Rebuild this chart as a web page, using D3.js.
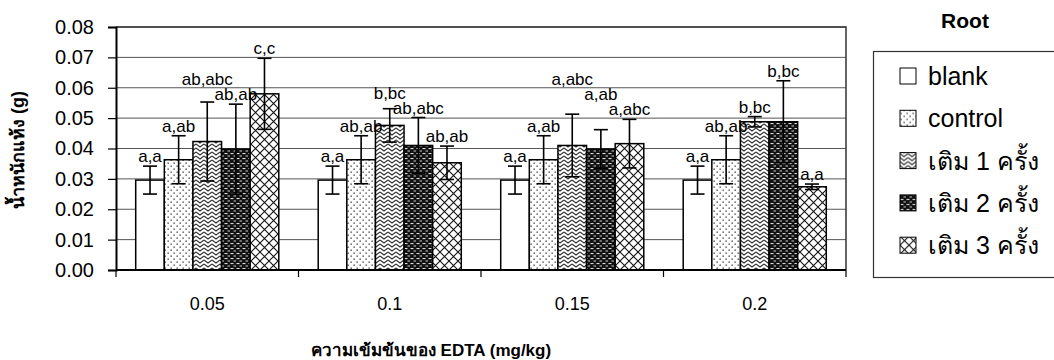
<!DOCTYPE html>
<html>
<head>
<meta charset="utf-8">
<script src="https://cdn.jsdelivr.net/npm/d3@7"></script>
<style>
    body { margin: 0; background: #fff; }
    text { font-family: "Liberation Sans", Arial, sans-serif; fill: #000; }
    .grid line { stroke: #555; stroke-width: 1; }
</style>
</head>
<body>
<div id="chart"></div>
<script>
// values
let concentrations = ["0.05", "0.1", "0.15", "0.2"];
let treatments = ["blank", "control", "เติม 1 ครั้ง", "เติม 2 ครั้ง", "เติม 3 ครั้ง"];

let blankMean   = [0.0296, 0.0296, 0.0296, 0.0296];
let controlMean = [0.0363, 0.0363, 0.0363, 0.0363];
let add1Mean    = [0.0423, 0.0476, 0.0410, 0.0488];
let add2Mean    = [0.0398, 0.0410, 0.0398, 0.0488];
let add3Mean    = [0.0580, 0.0353, 0.0416, 0.0274];

let blankErr   = [0.0046, 0.0046, 0.0046, 0.0046];
let controlErr = [0.0079, 0.0079, 0.0079, 0.0079];
let add1Err    = [0.0130, 0.0055, 0.0103, 0.0017];
let add2Err    = [0.0148, 0.0092, 0.0064, 0.0135];
let add3Err    = [0.0117, 0.0055, 0.0080, 0.0009];

let blankLbl   = ["a,a", "a,a", "a,a", "a,a"];
let controlLbl = ["a,ab", "ab,ab", "a,ab", "ab,ab"];
let add1Lbl    = ["ab,abc", "b,bc", "a,abc", "b,bc"];
let add2Lbl    = ["ab,ab", "ab,abc", "a,ab", "b,bc"];
let add3Lbl    = ["c,c", "ab,ab", "a,abc", "a,a"];

let yTicks = [0, 0.01, 0.02, 0.03, 0.04, 0.05, 0.06, 0.07, 0.08];

let means = [blankMean, controlMean, add1Mean, add2Mean, add3Mean];
let errs = [blankErr, controlErr, add1Err, add2Err, add3Err];
let lbls = [blankLbl, controlLbl, add1Lbl, add2Lbl, add3Lbl];

let data = [];
concentrations.forEach((c, ci) => {
    treatments.forEach((t, ti) => {
        data.push({conc: c, trt: t, ti: ti, mean: means[ti][ci], err: errs[ti][ci], label: lbls[ti][ci]});
    });
});

let W = 1054, H = 360;
let margin = {top: 27, right: 208, bottom: 90, left: 116};
let width = W - margin.left - margin.right;
let height = H - margin.top - margin.bottom;

let svg = d3.select("#chart").append("svg")
    .attr("width", W)
    .attr("height", H);

// fill patterns
let defs = svg.append("defs");
let patIds = ["p0", "p1", "p2", "p3", "p4"];

defs.append("pattern").attr("id", "p0").attr("width", 4).attr("height", 4)
    .attr("patternUnits", "userSpaceOnUse")
    .append("rect").attr("width", 4).attr("height", 4).attr("fill", "#fff");

let p1 = defs.append("pattern").attr("id", "p1").attr("width", 6).attr("height", 6)
    .attr("patternUnits", "userSpaceOnUse");
p1.append("rect").attr("width", 6).attr("height", 6).attr("fill", "#fff");
p1.append("rect").attr("x", 0.5).attr("y", 0.5).attr("width", 1.3).attr("height", 1.3).attr("fill", "#333");
p1.append("rect").attr("x", 3.5).attr("y", 3.5).attr("width", 1.3).attr("height", 1.3).attr("fill", "#333");

let p2 = defs.append("pattern").attr("id", "p2").attr("width", 8).attr("height", 8)
    .attr("patternUnits", "userSpaceOnUse");
p2.append("rect").attr("width", 8).attr("height", 8).attr("fill", "#fff");
p2.append("path").attr("d", "M0,1 L4,4 L8,1 M0,5 L4,8 L8,5 M0,-3 L4,0 L8,-3")
    .attr("fill", "none").attr("stroke", "#333").attr("stroke-width", 1.1);

let p3 = defs.append("pattern").attr("id", "p3").attr("width", 6).attr("height", 5)
    .attr("patternUnits", "userSpaceOnUse");
p3.append("rect").attr("width", 6).attr("height", 5).attr("fill", "#111");
p3.append("rect").attr("x", 0.5).attr("y", 1).attr("width", 3).attr("height", 1.1).attr("fill", "#ddd");
p3.append("rect").attr("x", 3.5).attr("y", 3.5).attr("width", 2.5).attr("height", 1).attr("fill", "#ccc");

let p4 = defs.append("pattern").attr("id", "p4").attr("width", 9).attr("height", 9)
    .attr("patternUnits", "userSpaceOnUse");
p4.append("rect").attr("width", 9).attr("height", 9).attr("fill", "#fff");
p4.append("path").attr("d", "M0,0 L9,9 M9,0 L0,9")
    .attr("stroke", "#111").attr("stroke-width", 1.1);

let g = svg.append("g").attr("transform", `translate(${margin.left},${margin.top})`);

// scales
let x0 = d3.scaleBand().domain(concentrations).range([0, width])
    .paddingInner(0.216).paddingOuter(0.108);
let x1 = d3.scaleBand().domain(treatments).range([0, x0.bandwidth()]);
let y = d3.scaleLinear().domain([0, 0.08]).range([height, 0]);

// gridlines
g.append("g").attr("class", "grid")
    .selectAll("line").data(yTicks.slice(1))
    .enter().append("line")
    .attr("x1", 0).attr("x2", width)
    .attr("y1", d => y(d)).attr("y2", d => y(d));

// plot frame (top + right)
g.append("path")
    .attr("d", `M0,0 H${width} V${height}`)
    .attr("fill", "none").attr("stroke", "#333").attr("stroke-width", 1.5);

// bars
g.selectAll(".bar").data(data).enter().append("rect")
    .attr("class", "bar")
    .attr("x", d => x0(d.conc) + x1(d.trt))
    .attr("width", x1.bandwidth())
    .attr("y", d => y(d.mean))
    .attr("height", d => height - y(d.mean))
    .attr("fill", d => `url(#${patIds[d.ti]})`)
    .attr("stroke", "#000").attr("stroke-width", 1.5);

// error bars
let cap = 7;
let cx = d => x0(d.conc) + x1(d.trt) + x1.bandwidth() / 2;
let eb = g.selectAll(".err").data(data).enter().append("g").attr("class", "err")
    .attr("stroke", "#000").attr("stroke-width", 1.6);
eb.append("line")
    .attr("x1", cx).attr("x2", cx)
    .attr("y1", d => y(d.mean + d.err)).attr("y2", d => y(d.mean - d.err));
eb.append("line")
    .attr("x1", d => cx(d) - cap).attr("x2", d => cx(d) + cap)
    .attr("y1", d => y(d.mean + d.err)).attr("y2", d => y(d.mean + d.err));
eb.append("line")
    .attr("x1", d => cx(d) - cap).attr("x2", d => cx(d) + cap)
    .attr("y1", d => y(d.mean - d.err)).attr("y2", d => y(d.mean - d.err));

// significance labels, placed right to left, pushed up when they collide
let labels = g.selectAll(".lbl").data(data).enter().append("text")
    .attr("class", "lbl")
    .attr("x", cx)
    .attr("y", d => y(d.mean + d.err) - 4)
    .attr("text-anchor", "middle")
    .style("font-size", "17px")
    .text(d => d.label);

let lh = 14;
let placed = [];
labels.nodes().slice().reverse().forEach(node => {
    let b = node.getBBox();
    let yy = +node.getAttribute("y");
    let moved = true;
    while (moved) {
        moved = false;
        placed.forEach(p => {
            if (b.x < p.x + p.width && b.x + b.width > p.x && yy - lh < p.base && yy > p.base - lh) {
                yy = p.base - lh - 1;
                moved = true;
            }
        });
    }
    node.setAttribute("y", yy);
    placed.push({x: b.x, width: b.width, base: yy});
});

// y axis
let yAxis = g.append("g")
    .call(d3.axisLeft(y).tickValues(yTicks).tickFormat(d3.format(".2f")).tickSize(8).tickPadding(14));
yAxis.select(".domain").attr("stroke-width", 2);
yAxis.selectAll(".tick line").attr("stroke-width", 1.2);
yAxis.selectAll("text").style("font-size", "20px").style("font-family", "Liberation Sans, Arial, sans-serif");

// x axis, ticks between categories
let xAxis = g.append("g").attr("transform", `translate(0,${height})`);
xAxis.append("line").attr("x1", 0).attr("x2", width).attr("stroke", "#000").attr("stroke-width", 2);
let bounds = concentrations.map((c, i) => i === 0 ? 0 : x0(c) - x0.step() * x0.paddingInner() / 2);
bounds.push(width);
xAxis.selectAll(".xt").data(bounds).enter().append("line")
    .attr("x1", d => d).attr("x2", d => d).attr("y1", 0).attr("y2", 7)
    .attr("stroke", "#000").attr("stroke-width", 1.2);
xAxis.selectAll(".xl").data(concentrations).enter().append("text")
    .attr("x", d => x0(d) + x0.bandwidth() / 2)
    .attr("y", 40)
    .attr("text-anchor", "middle")
    .style("font-size", "18px")
    .text(d => d);

// axis titles
svg.append("text")
    .attr("x", 431).attr("y", 356)
    .attr("text-anchor", "middle")
    .style("font-size", "17px").style("font-weight", "bold")
    .text("ความเข้มข้นของ EDTA (mg/kg)");

svg.append("text")
    .attr("transform", "translate(24,150) rotate(-90)")
    .attr("text-anchor", "middle")
    .style("font-size", "18px").style("font-weight", "bold")
    .text("น้ำหนักแห้ง (g)");

// legend
svg.append("text")
    .attr("x", 965).attr("y", 28)
    .attr("text-anchor", "middle")
    .style("font-size", "21px").style("font-weight", "bold")
    .text("Root");

svg.append("rect")
    .attr("x", 873.5).attr("y", 51.5).attr("width", 200).attr("height", 226)
    .attr("fill", "#fff").attr("stroke", "#333").attr("stroke-width", 1.2);

let leg = svg.selectAll(".leg").data(treatments).enter().append("g")
    .attr("class", "leg")
    .attr("transform", (d, i) => `translate(900,${76 + i * 42.3})`);
leg.append("rect")
    .attr("x", 0).attr("y", -8).attr("width", 16).attr("height", 16)
    .attr("fill", (d, i) => `url(#${patIds[i]})`)
    .attr("stroke", "#000").attr("stroke-width", 1);
leg.append("text")
    .attr("x", 28).attr("y", 9)
    .style("font-size", "25px")
    .text(d => d);
</script>
</body>
</html>
